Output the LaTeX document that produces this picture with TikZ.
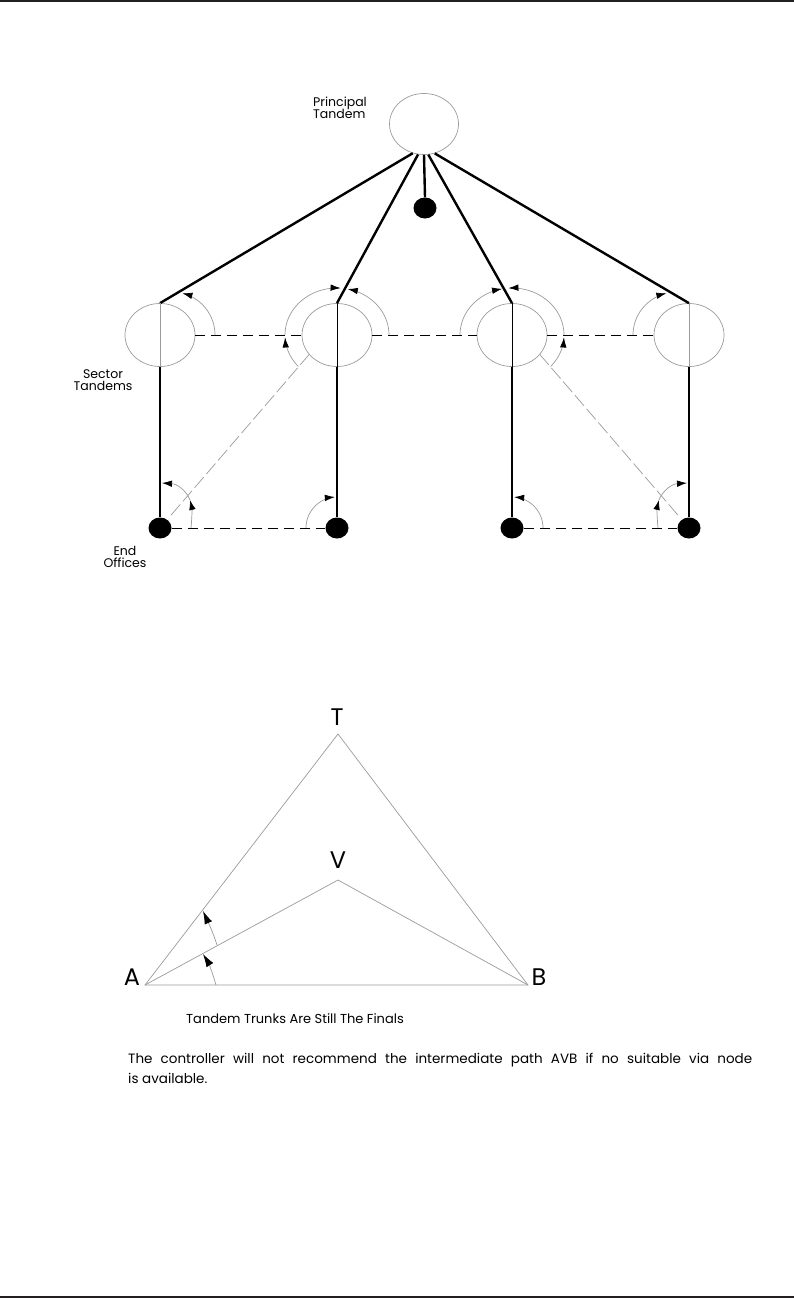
\documentclass[tikz,border=0pt]{standalone}
\usepackage{fontspec}
\setmainfont{Poppins}
\usetikzlibrary{shapes.geometric,arrows.meta}
\definecolor{rulec}{HTML}{231F20}
\definecolor{lgray}{HTML}{9A9A9A}
\newcommand{\ovarc}[7][]{\draw[gline,#1] plot[domain=0:1,samples=40,smooth] ({#2+#4*cos(#6+(#7-#6)*\x)},{#3-#5*sin(#6+(#7-#6)*\x)});}
\begin{document}
\begin{tikzpicture}[x=1pt,y=-1pt,
  >={Latex[length=10pt,width=6.5pt,color=black]},
  bigtip/.style={-{Latex[length=13pt,width=8pt,color=black]}},
  gline/.style={draw=lgray, line width=0.7pt},
  ell/.style={ellipse, draw=lgray, line width=0.7pt, inner sep=0pt},
  dot/.style={ellipse, fill=black, minimum width=23pt, minimum height=21pt, inner sep=0pt},
  trunk/.style={draw=black, line width=2.4pt},
  hdash/.style={draw=black, line width=1pt, dash pattern=on 10pt off 6pt},
  ddash/.style={draw=lgray, line width=0.7pt, dash pattern=on 14pt off 4pt},
  lab/.style={font=\fontsize{12.5}{12.5}\selectfont, inner sep=0pt},
  big/.style={font=\fontsize{24}{24}\selectfont, inner sep=0pt},
  capt/.style={font=\fontsize{13}{20}\selectfont, inner sep=0pt},
  para/.style={font=\fontsize{13.5}{20}\selectfont, inner sep=0pt}]
\useasboundingbox (0,0) rectangle (794,1298);
\fill[rulec] (0,0) rectangle (794,2.5);
\fill[rulec] (0,1295.5) rectangle (794,1298);
% nodes
\node[ell, minimum width=69pt, minimum height=61pt] (P) at (424,124) {};
\node[ell, minimum width=70pt, minimum height=63pt] (S1) at (160,335) {};
\node[ell, minimum width=70pt, minimum height=63pt] (S2) at (337,335) {};
\node[ell, minimum width=70pt, minimum height=63pt] (S3) at (512,335) {};
\node[ell, minimum width=70pt, minimum height=63pt] (S4) at (689,335) {};
\node[dot] (D0) at (425,208) {};
\node[dot] (E1) at (160,528) {};
\node[dot] (E2) at (337,528) {};
\node[dot] (E3) at (512,528) {};
\node[dot] (E4) at (689,528) {};
% labels
\node[lab, align=left, anchor=west] (pl) at (313,108) {Principal\\Tandem};
\node[lab, align=center] (sl) at (103,380) {Sector\\Tandems};
\node[lab, align=center] (el) at (125,557) {End\\Offices};
% finals from principal tandem
\draw[trunk] (P.-111) -- (S1.north);
\draw[trunk] (P.-101) -- (S2.north);
\draw[trunk] (P.-90) -- (D0.north);
\draw[trunk] (P.-82) -- (S3.north);
\draw[trunk] (P.-70) -- (S4.north);
% inner verticals
\draw[gline] (S1.north) -- (S1.south);
\draw[black, line width=0.9pt] (S2.north) -- (S2.south);
\draw[black, line width=0.9pt] (S3.north) -- (S3.south);
\draw[gline] (S4.north) -- (S4.south);
% sector to end office
\draw[trunk] (S1.south) -- (E1.north);
\draw[trunk] (S2.south) -- (E2.north);
\draw[trunk] (S3.south) -- (E3.north);
\draw[trunk] (S4.south) -- (E4.north);
% dashed
\draw[hdash] (S1.east) -- (S2.west);
\draw[hdash] (S2.east) -- (S3.west);
\draw[hdash] (S3.east) -- (S4.west);
\draw[hdash] (E1.east) -- (E2.west);
\draw[hdash] (E3.east) -- (E4.west);
\draw[ddash, shorten <=6pt] (E1) -- (S2.215);
\draw[ddash, shorten <=6pt] (E4) -- (S3.-35);
% overflow arcs
\ovarc[->]{172}{335}{43}{43}{0}{76}
\ovarc[->]{677}{335}{44}{43}{180}{104}
\ovarc[->]{337}{335}{52}{47}{222}{183}
\ovarc[->]{337}{335}{52}{47}{180}{86}
\ovarc[->]{337}{335}{52}{47}{0}{78}
\ovarc[->]{512}{335}{52}{47}{180}{101}
\ovarc[->]{512}{335}{52}{47}{0}{94}
\ovarc[->]{512}{335}{52}{47}{-42}{-3}
\ovarc[->]{337}{528}{31}{31}{180}{94}
\ovarc[->]{512}{528}{31}{31}{0}{86}
\draw[gline,->] (191,528) .. controls (192,518) and (192,508) .. (190,500);
\draw[gline,->] (190,500) .. controls (186,490) and (177,484) .. (162,483);
\draw[gline,->] (658,528) .. controls (657,518) and (657,508) .. (659,500);
\draw[gline,->] (659,500) .. controls (663,490) and (672,484) .. (687,483);
% triangle
\coordinate (A) at (145,985);
\coordinate (B) at (528,985);
\coordinate (T) at (338,734);
\coordinate (V) at (338,880);
\draw[gline] (A) -- (T) -- (B) -- cycle;
\draw[gline] (A) -- (V) -- (B);
\coordinate (a1) at (216,985);
\coordinate (a1e) at (203,954);
\coordinate (a2) at (217,945);
\coordinate (a2e) at (203,911);
\draw[gline,bigtip] (a1) .. controls (212,971) and (208,962) .. (a1e);
\draw[gline,bigtip] (a2) .. controls (213,932) and (208,922) .. (a2e);
\node[big] (tT) at (337,717) {T};
\node[big] (tV) at (338,860) {V};
\node[big] (tA) at (132,977) {A};
\node[big] (tB) at (539,977) {B};
\node[capt, anchor=base] (cap) at (295,1023) {Tandem Trunks Are Still The Finals};
\node[para, anchor=base west] (p1) at (128,1063) {\makebox[624pt][s]{The controller will not recommend the intermediate path AVB if no suitable via node}};
\node[para, anchor=base west] (p2) at (128,1083) {is available.};
\end{tikzpicture}
\end{document}
